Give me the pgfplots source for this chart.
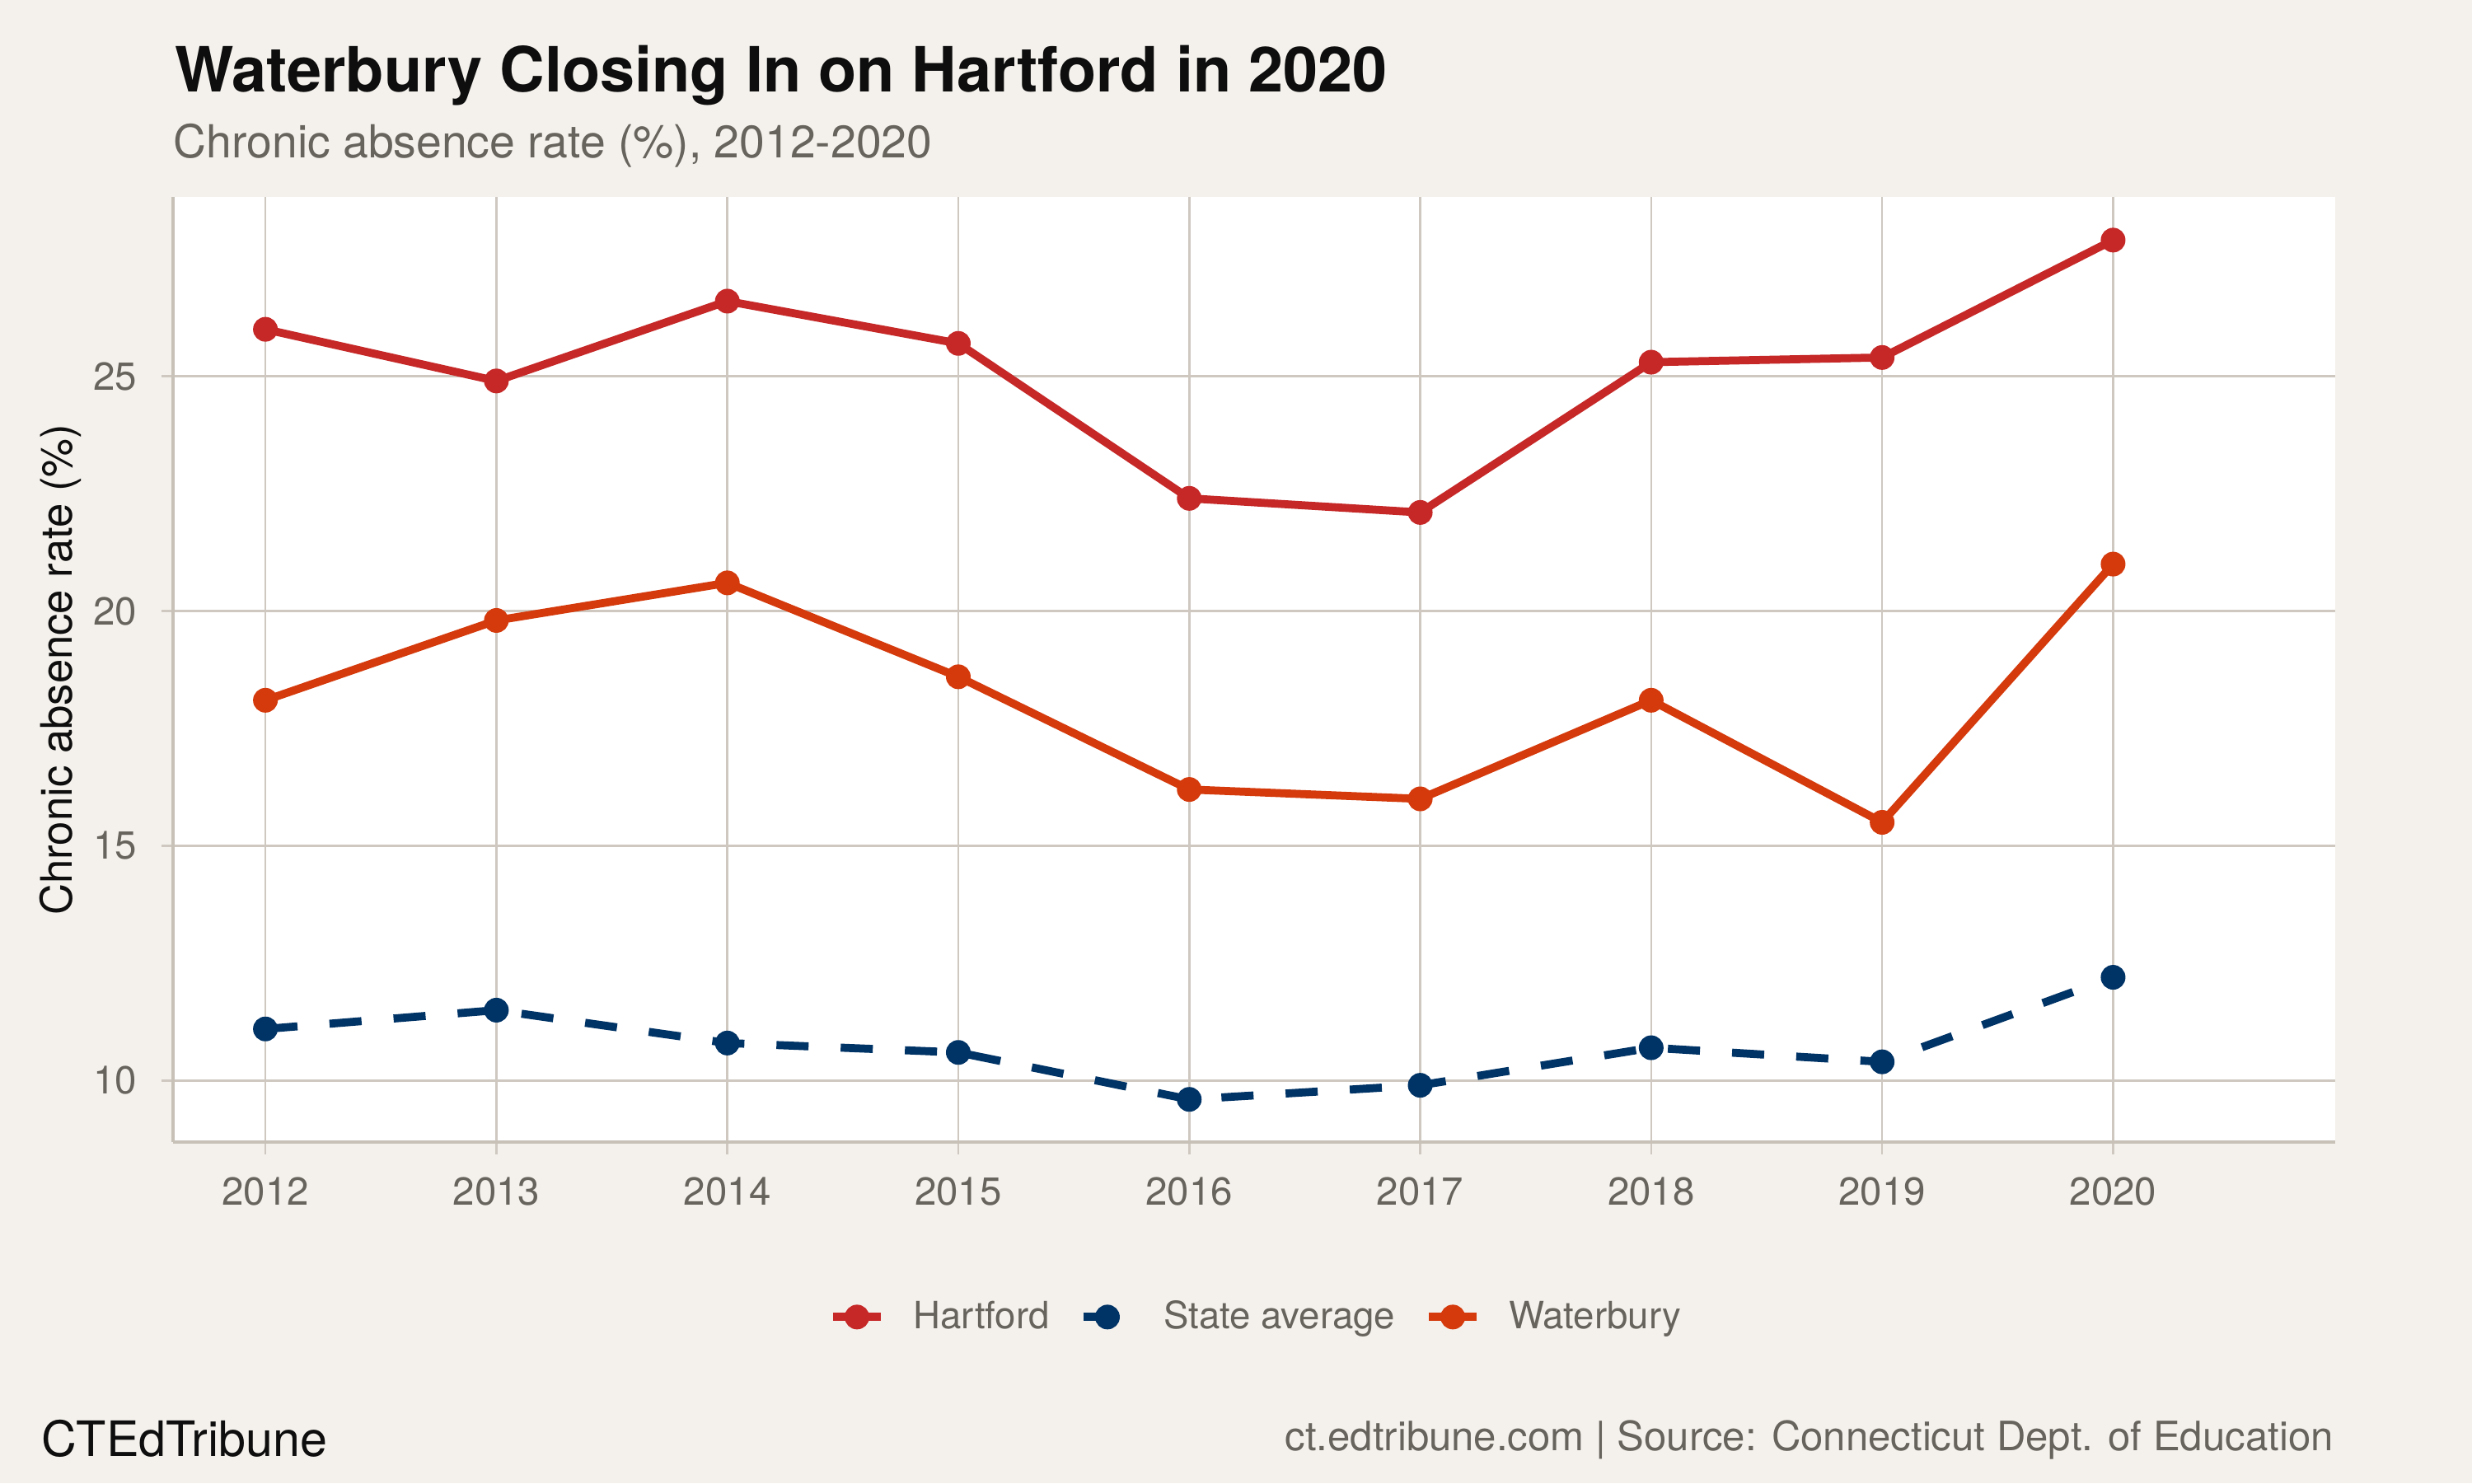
\documentclass[border=0pt]{standalone}
\usepackage{fontspec}
\setmainfont{TeX Gyre Heros}
\usepackage{pgfplots}
\pgfplotsset{compat=1.18}
\definecolor{bgc}{RGB}{244,241,236}
\definecolor{gridc}{RGB}{206,200,192}
\definecolor{axisc}{RGB}{199,193,184}
\definecolor{txtgray}{RGB}{103,99,93}
\definecolor{txtdark}{RGB}{14,14,14}
\definecolor{hartford}{RGB}{198,40,40}
\definecolor{waterbury}{RGB}{212,58,12}
\definecolor{stateavg}{RGB}{0,51,102}

\begin{document}
\begin{tikzpicture}
% page background
\fill[bgc] (0,0) rectangle (800bp,480.1bp);
\begin{axis}[
  at={(56bp,110.4bp)}, anchor=south west,
  scale only axis, width=699.6bp, height=305.9bp,
  xmin=2011.6, xmax=2020.96, ymin=8.685, ymax=28.815,
  axis background/.style={fill=white},
  axis lines*=left,
  axis line style={axisc, line width=1bp, -},
  grid=major,
  major grid style={gridc, line width=0.65bp},
  tick align=outside, major tick length=3.8bp,
  tick style={gridc, line width=0.65bp},
  xtick={2012,2013,2014,2015,2016,2017,2018,2019,2020},
  ytick={10,15,20,25},
  /pgf/number format/1000 sep={},
  /pgf/number format/assume math mode=true,
  ticklabel style={font=\fontsize{12.7}{15}\selectfont, text=txtgray, inner sep=0pt},
  xticklabel style={anchor=base, yshift=-16.5bp},
  yticklabel style={anchor=east, xshift=-7.7bp},
  ylabel={Chronic absence rate (\%)},
  ylabel style={at={(axis description cs:-0.0519,0.5)}, anchor=center,
    font=\fontsize{14.1}{17}\selectfont, text=txtdark},
  clip=false,
  legend columns=3,
  legend style={at={(0.5005,-0.1848)}, anchor=center, draw=none, fill=none,
    font=\fontsize{12.2}{14}\selectfont, text=txtgray,
    column sep=9.1bp, nodes={inner sep=0pt},
    /tikz/every even column/.append style={column sep=9.6bp}},
  legend image code/.code={\draw[mark repeat=2,mark phase=2,#1]
    plot coordinates {(0bp,0bp) (7.8bp,0bp) (15.6bp,0bp)};},
  every axis plot/.append style={line width=2.6bp, line join=round,
    mark=*, mark size=3.75bp, mark options={solid, line width=0.5bp}},
]
\addplot[hartford] coordinates {
  (2012,26.0) (2013,24.9) (2014,26.6) (2015,25.7) (2016,22.4)
  (2017,22.1) (2018,25.3) (2019,25.4) (2020,27.9)};
\addlegendentry{Hartford}
\addplot[stateavg, dash pattern=on 10.4bp off 10.4bp] coordinates {
  (2012,11.1) (2013,11.5) (2014,10.8) (2015,10.6) (2016,9.6)
  (2017,9.9) (2018,10.7) (2019,10.4) (2020,12.2)};
\addlegendentry{State average}
\addplot[waterbury] coordinates {
  (2012,18.1) (2013,19.8) (2014,20.6) (2015,18.6) (2016,16.2)
  (2017,16.0) (2018,18.1) (2019,15.5) (2020,21.0)};
\addlegendentry{Waterbury}
\end{axis}
% titles and captions
\node[anchor=base west, inner sep=0pt, text=txtdark,
  font=\fontsize{20.25}{24}\bfseries] at (56.4bp,450.3bp)
  {Waterbury Closing In on Hartford in 2020};
\node[anchor=base west, inner sep=0pt, text=txtgray,
  font=\fontsize{14.8}{17}\selectfont] at (56bp,429bp)
  {Chronic absence rate (\%), 2012-2020};
\node[anchor=base west, inner sep=0pt, text=txtdark,
  font=\fontsize{15.85}{19}\selectfont] at (13.2bp,8.9bp) {CTEdTribune};
\node[anchor=base east, inner sep=0pt, text=txtgray,
  font=\fontsize{13.15}{15}\selectfont] at (755.3bp,10.6bp)
  {ct.edtribune.com | Source: Connecticut Dept. of Education};
\end{tikzpicture}
\end{document}
